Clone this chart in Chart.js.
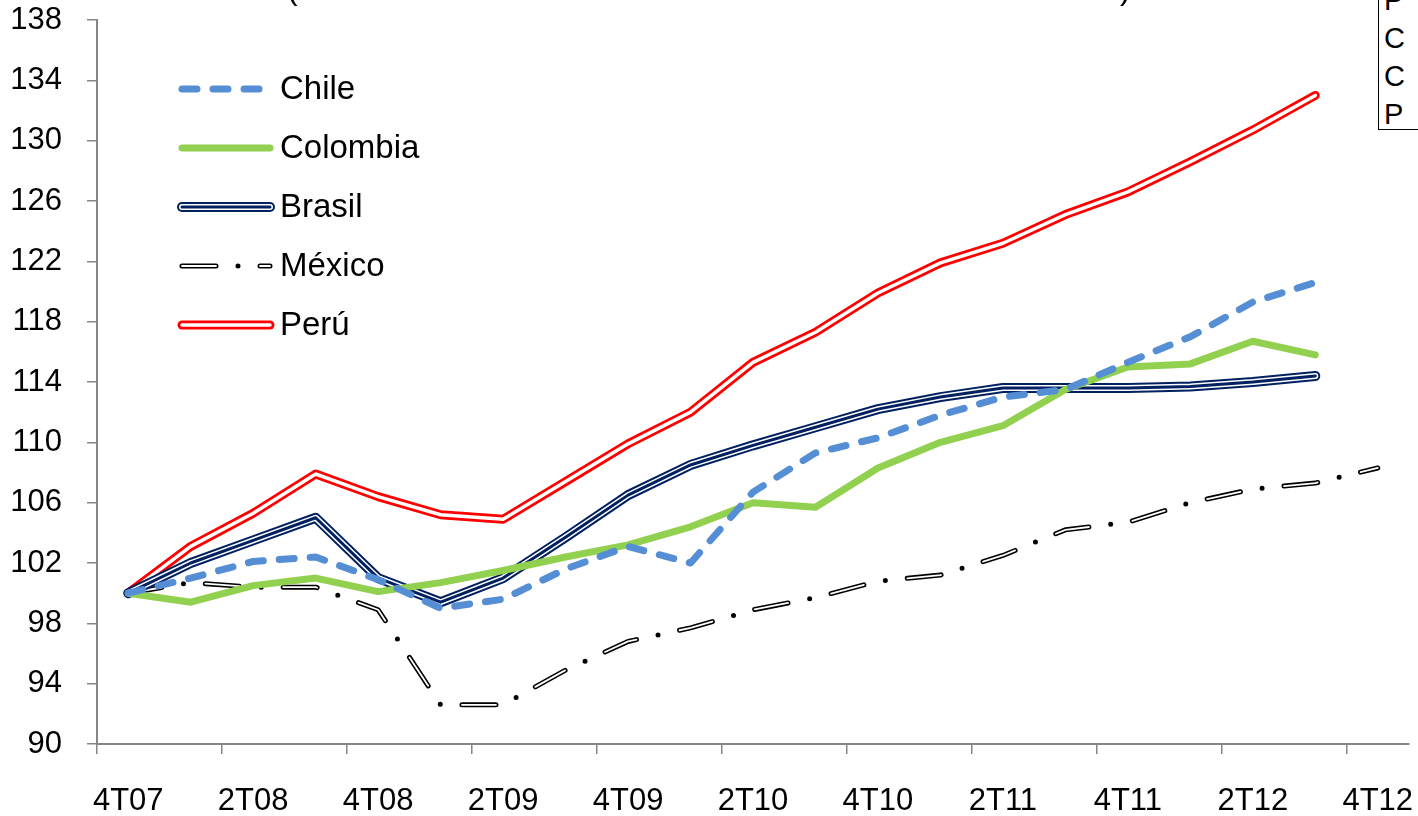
<!DOCTYPE html>
<html>
<head>
<meta charset="utf-8">
<script src="https://cdn.jsdelivr.net/npm/chart.js@4.4.1/dist/chart.umd.min.js"></script>
<style>
  html, body { margin: 0; padding: 0; background: #fff; overflow: hidden; }
  #wrap { position: absolute; left: 0; top: 0; width: 1418px; height: 816px; }
  #note {
    position: absolute; left: 1378px; top: -20px; width: 60px; height: 148px;
    border: 1.5px solid #000; background: #fff; overflow: hidden;
    font: 29px "Liberation Sans", Arial, sans-serif; line-height: 38px;
    padding-left: 5px; color: #000;
  }
</style>
</head>
<body>
<div id="wrap"><canvas id="chart"></canvas></div>
<div id="note">P<br>C<br>C<br>P</div>
<script>
// Quarterly index, 4T07 = 100
const quarters = ['4T07', '1T08', '2T08', '3T08', '4T08', '1T09', '2T09', '3T09', '4T09', '1T10',
  '2T10', '3T10', '4T10', '1T11', '2T11', '3T11', '4T11', '1T12', '2T12', '3T12', '4T12'];

const chile = [100, 101.0, 102.1, 102.4, 100.9, 99.0, 99.6, 101.6, 103.1, 102.0,
  106.7, 109.3, 110.3, 111.8, 113.0, 113.5, 115.3, 117.0, 119.3, 120.6, null];
const colombia = [100, 99.4, 100.5, 101.0, 100.1, 100.7, 101.5, 102.4, 103.2, 104.4,
  106.0, 105.7, 108.3, 110.0, 111.1, 113.5, 115.0, 115.2, 116.7, 115.8, null];
const brasil = [100, 102.0, 103.5, 105.0, 101.0, 99.4, 101.0, 103.7, 106.5, 108.5,
  109.8, 111.0, 112.2, 113.0, 113.6, 113.6, 113.6, 113.7, 114.0, 114.4, null];
const mexico = [100, 100.7, 100.4, 100.4, 98.9, 92.6, 92.6, 94.9, 96.8, 97.7,
  98.9, 99.7, 100.8, 101.2, 102.5, 104.2, 104.7, 106.0, 106.9, 107.3, 108.3];
const peru = [100, 103.1, 105.3, 107.9, 106.4, 105.2, 104.9, 107.4, 109.9, 112.0,
  115.3, 117.3, 119.9, 121.9, 123.2, 125.1, 126.6, 128.6, 130.7, 133.0, null];

const seriesNames = ['Chile', 'Colombia', 'Brasil', 'México', 'Perú'];
const seriesValues = [chile, colombia, brasil, mexico, peru];

// Excel-like compound line styles: each series is drawn as stacked strokes
const seriesLayers = [
  [{ color: '#558ED5', width: 7, dash: [15, 16] }],
  [{ color: '#92D050', width: 7 }],
  [{ color: '#002060', width: 10 }, { color: '#ffffff', width: 6 }, { color: '#002060', width: 3 }],
  [{ color: '#000000', width: 5, dash: [34, 22, 0, 22] }, { color: '#ffffff', width: 1.8, dash: [34, 44] }],
  [{ color: '#FF0000', width: 9 }, { color: '#ffffff', width: 3.5 }]
];

const FONT = '"Liberation Sans", Arial, sans-serif';
const AXIS_GREY = '#868686';

// Build datasets: bottom-most series first (Perú) up to Chile on top
function buildDatasets() {
  const drawSeq = [];
  for (let s = seriesValues.length - 1; s >= 0; s--) {
    seriesLayers[s].forEach(layer => drawSeq.push({ s, layer }));
  }
  return drawSeq.map((item, i) => ({
    label: seriesNames[item.s],
    data: seriesValues[item.s],
    borderColor: item.layer.color,
    borderWidth: item.layer.width,
    borderDash: item.layer.dash || [],
    borderCapStyle: 'round',
    borderJoinStyle: 'round',
    pointRadius: 0,
    tension: 0,
    fill: false,
    order: drawSeq.length - i // lower order is drawn later (on top)
  }));
}

// keep the plot area where the reference has it, whatever the label padding
function noScalePadding(scale) {
  scale.paddingTop = 0;
  scale.paddingBottom = 0;
  scale.paddingLeft = 0;
  scale.paddingRight = 0;
}

// Legend and stray texts drawn on the canvas
const extrasPlugin = {
  id: 'extras',
  afterDraw(chart) {
    const ctx = chart.ctx;
    ctx.save();
    // cut-off subtitle parentheses at the very top
    ctx.fillStyle = '#000';
    ctx.font = '32px ' + FONT;
    ctx.textBaseline = 'alphabetic';
    ctx.fillText('(', 287, -1);
    ctx.fillText(')', 1120, -1);

    // legend
    const x1 = 182, x2 = 270, textX = 280;
    const rowY = [89, 148, 207, 266, 325];
    seriesNames.forEach((name, s) => {
      const y = rowY[s];
      seriesLayers[s].forEach(layer => {
        ctx.beginPath();
        ctx.setLineDash(layer.dash || []);
        ctx.lineDashOffset = 0;
        ctx.lineCap = 'round';
        ctx.strokeStyle = layer.color;
        ctx.lineWidth = layer.width;
        ctx.moveTo(x1, y);
        ctx.lineTo(x2, y);
        ctx.stroke();
      });
      ctx.setLineDash([]);
      ctx.fillStyle = '#000';
      ctx.font = '33px ' + FONT;
      ctx.textBaseline = 'middle';
      ctx.textAlign = 'left';
      ctx.fillText(name, textX, y + 1);
    });
    ctx.restore();
  }
};

function initializeChart() {
  const ctx = document.getElementById('chart').getContext('2d');
  return new Chart(ctx, {
    type: 'line',
    data: { labels: quarters, datasets: buildDatasets() },
    options: {
      responsive: true,
      maintainAspectRatio: false,
      animation: false,
      layout: { padding: { top: 20, right: 9, left: 0, bottom: 0 } },
      plugins: { legend: { display: false }, tooltip: { enabled: false } },
      scales: {
        x: {
          type: 'category',
          offset: true,
          afterFit: scale => { scale.height = 72; noScalePadding(scale); },
          border: { color: AXIS_GREY, width: 2 },
          grid: {
            offset: true,
            drawOnChartArea: false,
            drawTicks: true,
            tickLength: 10,
            lineWidth: 1.5,
            color: c => (c.index !== undefined && c.index % 2 === 0) ? AXIS_GREY : 'rgba(0,0,0,0)'
          },
          ticks: {
            autoSkip: false,
            maxRotation: 0,
            padding: 29,
            color: '#000',
            font: { family: FONT, size: 31 },
            callback: (val, i) => (i % 2 === 0 ? quarters[i] : '')
          }
        },
        y: {
          min: 90,
          max: 138,
          afterFit: scale => { scale.width = 97; noScalePadding(scale); },
          border: { color: AXIS_GREY, width: 2 },
          grid: {
            drawOnChartArea: false,
            drawTicks: true,
            tickLength: 10,
            lineWidth: 1.5,
            color: AXIS_GREY
          },
          ticks: {
            stepSize: 4,
            padding: 25,
            color: '#000',
            font: { family: FONT, size: 31 }
          }
        }
      }
    },
    plugins: [extrasPlugin]
  });
}

window.onload = () => {
  initializeChart();
};
</script>
</body>
</html>
